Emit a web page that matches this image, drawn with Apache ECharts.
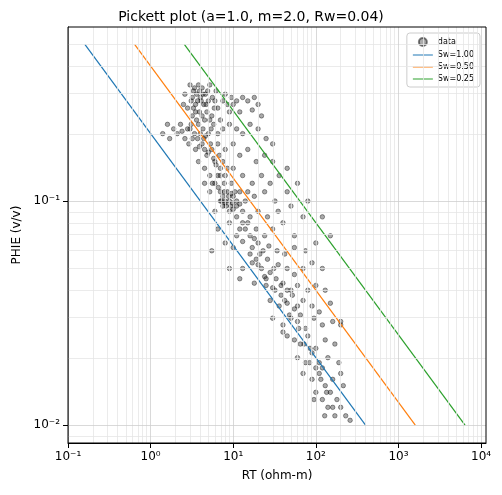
<!DOCTYPE html>
<html><head><meta charset="utf-8">
<script src="https://cdn.jsdelivr.net/npm/echarts@6/dist/echarts.min.js"></script>
<style>html,body{margin:0;padding:0;background:#fff}#c{width:502px;height:495px}</style>
</head><body><div id="c"></div>
<script>
const dataPoints = [
[2.6,0.30],[3.0,0.33],[3.3,0.31],[3.8,0.33],[4.2,0.32],[4.6,0.30],[5.2,0.33],[3.1,0.28],[3.5,0.27],[4.0,0.29],[4.4,0.27],[5.0,0.28],[5.6,0.29],[6.2,0.31],[2.8,0.26],[3.2,0.24],[3.9,0.25],[4.8,0.25],[5.5,0.24],[6.5,0.26],[7.5,0.28],[8.5,0.27],[9.5,0.29],[11,0.28],[13,0.29],[15,0.28],[18,0.29],[20,0.27],[9,0.25],[12,0.25],[7,0.23],[2.5,0.27],[2.3,0.22],[1.9,0.21],[1.6,0.22],[1.4,0.20],[1.7,0.19],[2.1,0.20],[2.6,0.19],[3.0,0.21],[3.4,0.20],[3.8,0.22],[4.3,0.21],[5.0,0.20],[5.8,0.22],[6.5,0.20],[7.5,0.21],[9,0.22],[11,0.21],[13,0.20],[16,0.22],[20,0.21],[25,0.19],[2.9,0.18],[3.5,0.17],[4.2,0.18],[4.8,0.16],[5.5,0.17],[6.5,0.18],[8,0.17],[10,0.18],[12,0.16],[15,0.17],[19,0.15],[24,0.16],[30,0.15],[3.8,0.15],[4.5,0.14],[5.2,0.13],[6,0.15],[7,0.14],[8,0.13],[10,0.14],[13,0.13],[17,0.12],[22,0.13],[28,0.12],[36,0.13],[4.5,0.12],[5.2,0.11],[6,0.12],[7,0.11],[7.5,0.105],[8,0.10],[8.5,0.11],[9,0.10],[10,0.105],[11,0.10],[12,0.11],[14,0.10],[18,0.105],[24,0.11],[32,0.10],[45,0.11],[6,0.09],[7.5,0.095],[9,0.09],[11,0.085],[13,0.09],[16,0.085],[20,0.09],[26,0.085],[35,0.09],[50,0.095],[6.5,0.075],[9,0.08],[12,0.075],[15,0.08],[19,0.075],[24,0.07],[30,0.075],[40,0.08],[55,0.07],[70,0.085],[5.5,0.06],[8,0.065],[10,0.062],[13,0.066],[17,0.062],[21,0.058],[27,0.063],[34,0.06],[42,0.058],[55,0.062],[75,0.06],[100,0.065],[13,0.05],[17,0.053],[22,0.05],[28,0.048],[35,0.052],[45,0.05],[55,0.047],[70,0.05],[90,0.053],[120,0.05],[18,0.043],[25,0.042],[32,0.04],[40,0.043],[50,0.04],[60,0.042],[80,0.04],[100,0.042],[130,0.04],[28,0.036],[36,0.034],[45,0.035],[55,0.033],[70,0.036],[90,0.034],[110,0.032],[150,0.035],[30,0.03],[40,0.028],[50,0.03],[60,0.029],[75,0.027],[95,0.03],[120,0.028],[160,0.029],[200,0.028],[45,0.025],[55,0.024],[65,0.023],[80,0.025],[100,0.022],[130,0.024],[170,0.023],[60,0.02],[75,0.019],[90,0.021],[110,0.019],[140,0.02],[190,0.019],[70,0.017],[90,0.016],[110,0.017],[130,0.015],[160,0.016],[200,0.017],[100,0.014],[120,0.013],[150,0.014],[180,0.013],[140,0.012],[170,0.011],[200,0.012],[230,0.011],[260,0.0105],[215,0.015],[40,0.026],
[3.6,0.30],[4.1,0.28],[3.3,0.26],[4.5,0.23],[5.9,0.26],[3.7,0.19],[4.4,0.19],[5.3,0.18],[6.8,0.16],[7.5,0.15],[8.5,0.14],[6.5,0.13],[9.5,0.12],[7.2,0.10],[8.2,0.095],[9.8,0.098],[11,0.095],[15,0.11],[14,0.075],[18,0.068],[16,0.058],[20,0.052],[25,0.045],[30,0.041],[38,0.038],[45,0.04],[48,0.031],[65,0.031],[85,0.022],[120,0.018],[95,0.013],[160,0.012],[6,0.28],[8,0.30],[10,0.27],[22,0.24],[17,0.255],[30,0.18],[45,0.14],[60,0.12],[80,0.1],[120,0.085],[150,0.07],[200,0.029],[9,0.05],[12,0.045],
[3.4,0.32],[3.9,0.31],[4.3,0.30],[4.9,0.31],[3.2,0.29],[3.7,0.28],[4.7,0.27],[3.5,0.25],[4.2,0.24],[5.2,0.23],[3.1,0.22],[3.6,0.23],[2.4,0.205],[2.8,0.21],[4.0,0.20],[4.6,0.195],[5.4,0.21],[3.2,0.19],[3.9,0.175],[4.5,0.17],[5.0,0.165],[5.8,0.155],[6.2,0.145],[7.0,0.13],[7.8,0.12],[5.6,0.12],[6.6,0.115],[7.8,0.11],[8.8,0.105],[9.5,0.108],[10.5,0.11],[7.0,0.10],[8.0,0.098],[9.3,0.095],[10,0.092],[12,0.097],[13,0.08],[11,0.07],[16,0.07],[20,0.065],[23,0.06],[19,0.055],[26,0.055],[31,0.05],[24,0.046],[33,0.045],[38,0.042],[42,0.036],[52,0.038],[60,0.034],[62,0.027],[72,0.023],[84,0.019],[100,0.018],[115,0.016],[135,0.014],[128,0.011]
];
const swLabels = ['Sw=1.00','Sw=0.50','Sw=0.25'];
const swColors = ['#1f77b4','#ff7f0e','#2ca02c'];
const linePhie = [0.5, 0.01];
const lineRt = [[0.16, 400],[0.64, 1600],[2.56, 6400]];
const xTicks = [-1,0,1,2,3,4];
const yTicks = [-2,-1];

const L = Math.log10;
const minorX = [], minorY = [];
for (let d=-1; d<=4; d++) for (let k=2;k<=9;k++){ const v=L(k)+d; if (v<4.06) minorX.push({xAxis:v}); }
for (let d=-3; d<=0; d++) for (let k=2;k<=9;k++){ const v=L(k)+d; if (v>-2.08 && v<-0.223) minorY.push({yAxis:v}); }

const supMap = {'-':'\u207B','0':'\u2070','1':'\u00B9','2':'\u00B2','3':'\u00B3','4':'\u2074'};
const sup = n => '10' + String(Math.round(n)).split('').map(c=>supMap[c]).join('');

const series = [{
  type:'scatter', name:'data', symbolSize:4.5,
  data: dataPoints.map(p=>[L(p[0]),L(p[1])]),
  itemStyle:{color:'rgba(0,0,0,0.42)', borderColor:'rgba(0,0,0,0.6)', borderWidth:0.8},
  markLine:{silent:true, symbol:'none', label:{show:false}, animation:false,
    lineStyle:{color:'#e6e6e6', width:0.8, type:'solid'}, data: minorX.concat(minorY)},
  z:3
}];
swLabels.forEach((nm,i)=>series.push({type:'line', name:nm, showSymbol:false, symbol:'none',
  data: linePhie.map((ph,j)=>[L(lineRt[i][j]), L(ph)]),
  lineStyle:{color:swColors[i], width:1.2}, itemStyle:{color:swColors[i]}, z:4}));
const majors = xTicks.map(v=>({xAxis:v})).concat(yTicks.map(v=>({yAxis:v})));
series.push({id:'maj', type:'line', data:[], markLine:{silent:true, symbol:'none', label:{show:false},
  lineStyle:{color:'#cfcfcf', width:0.8, type:'solid'}, data:majors}, z:2});

const axisCommon = {
  axisLine:{onZero:false, lineStyle:{color:'#000'}},
  nameTextStyle:{fontSize:12,color:'#000'},
  splitLine:{show:false}
};
const chart = echarts.init(document.getElementById('c'));
chart.setOption({
  animation:false,
  textStyle:{fontFamily:'DejaVu Sans'},
  title:{text:'Pickett plot (a=1.0, m=2.0, Rw=0.04)', left:'center', top:5,
    textStyle:{fontSize:14, fontWeight:'normal', color:'#000', fontFamily:'DejaVu Sans'}},
  legend:{right:22, top:33, orient:'vertical', itemGap:4, itemWidth:20, itemHeight:8,
    backgroundColor:'rgba(255,255,255,0.85)', borderColor:'#ccc', borderWidth:1, borderRadius:3, padding:[4,6],
    textStyle:{fontSize:8, color:'#000'},
    data:[{name:'data', icon:'circle', itemStyle:{color:'rgba(80,80,80,0.6)'}}].concat(swLabels.map(n=>({name:n, icon:'path://M0,0L20,0L20,1L0,1Z'})))},
  grid:{left:68, right:16, top:27, bottom:52},
  xAxis:Object.assign({type:'value', min:-1, max:4.06, interval:1,
    name:'RT (ohm-m)', nameLocation:'middle', nameGap:27,
    axisTick:{show:true, customValues:xTicks, lineStyle:{color:'#000'}},
    axisLabel:{customValues:xTicks, formatter:v=>sup(v), color:'#000', fontSize:12}}, axisCommon),
  yAxis:Object.assign({type:'value', min:-2.08, max:-0.223, interval:1,
    name:'PHIE (v/v)', nameLocation:'middle', nameGap:38,
    axisTick:{show:true, customValues:yTicks, lineStyle:{color:'#000'}},
    axisLabel:{customValues:yTicks, formatter:v=>sup(v), color:'#000', fontSize:12}}, axisCommon),
  series: series,
  graphic:[{type:'rect', shape:{x:68,y:27,width:418,height:416}, style:{fill:'none', stroke:'#000', lineWidth:1}, silent:true, z:10}]
});
</script></body></html>
